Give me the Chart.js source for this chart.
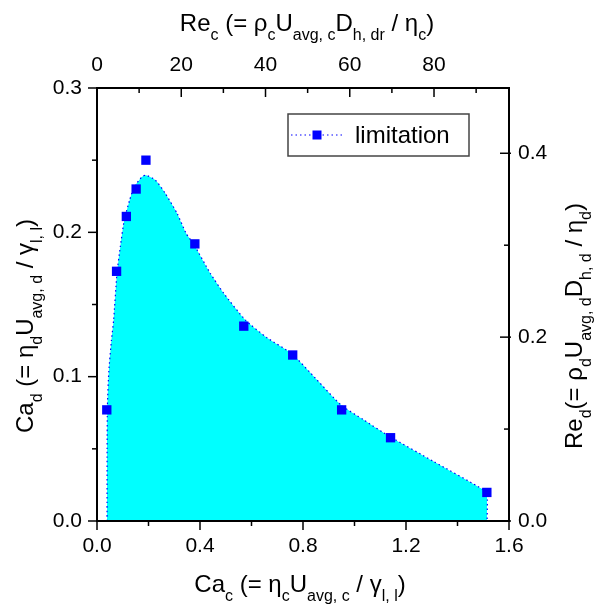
<!DOCTYPE html>
<html lang="en">
<head>
    <meta charset="UTF-8">
    <title>Limitation map</title>
    <script src="https://cdn.jsdelivr.net/npm/chart.js"></script>
    <style>
        body {
            margin: 0;
            background: #fff;
        }
        .chart-container {
            width: 598px;
            height: 606px;
        }
    </style>
</head>
<body>

    <div class="chart-container">
        <canvas id="limitChart"></canvas>
    </div>

    <script>
        // measured points (Ca_c, Ca_d)
        const caC = [0.038, 0.076, 0.114, 0.152, 0.19, 0.38, 0.57, 0.76, 0.95, 1.14, 1.514];
        const caD = [0.077, 0.173, 0.211, 0.230, 0.250, 0.192, 0.135, 0.115, 0.077, 0.0577, 0.0198];

        // smoothed limitation boundary (filled area)
        const curveX = [0.039, 0.0392, 0.0405, 0.046, 0.056, 0.0646, 0.0776, 0.0905, 0.106, 0.1267, 0.145, 0.1748, 0.19,
                        0.2264, 0.265, 0.311, 0.347, 0.375, 0.44, 0.492, 0.576, 0.66, 0.757, 0.854, 0.947,
                        1.035, 1.136, 1.307, 1.501, 1.515, 1.515];
        const curveY = [0, 0.05, 0.08, 0.104, 0.125, 0.1393, 0.1716, 0.19, 0.2085, 0.2223, 0.2315, 0.2385, 0.2396,
                        0.2362, 0.227, 0.2131, 0.199, 0.192, 0.1716, 0.1578, 0.1393, 0.127, 0.1158, 0.0978, 0.0805,
                        0.0701, 0.0586, 0.0413, 0.0217, 0.0194, 0];

        // axes
        const xTicks = [0, 0.4, 0.8, 1.2, 1.6];
        const xMinor = [0.2, 0.6, 1.0, 1.4];
        const yTicks = [0, 0.1, 0.2, 0.3];
        const yMinor = [0.05, 0.15, 0.25];
        const topTicks = [0, 20, 40, 60, 80];
        const topMinor = [10, 30, 50, 70, 90];
        const rightTicks = [0, 0.2, 0.4];
        const rightMinor = [0.1, 0.3];

        // axis titles: [text, isSubscript]
        const bottomTitle = [["Ca", 0], ["c", 1], [" (= η", 0], ["c", 1], ["U", 0], ["avg, c", 1], [" / γ", 0], ["l, l", 1], [")", 0]];
        const leftTitle = [["Ca", 0], ["d", 1], [" (= η", 0], ["d", 1], ["U", 0], ["avg, d", 1], [" / γ", 0], ["l, l", 1], [")", 0]];
        const topTitle = [["Re", 0], ["c", 1], [" (= ρ", 0], ["c", 1], ["U", 0], ["avg, c", 1], ["D", 0], ["h, dr", 1], [" / η", 0], ["c", 1], [")", 0]];
        const rightTitle = [["Re", 0], ["d", 1], ["(= ρ", 0], ["d", 1], ["U", 0], ["avg, d", 1], ["D", 0], ["h, d", 1], [" / η", 0], ["d", 1], [")", 0]];

        const FONT = '"Liberation Sans", Arial, sans-serif';

        function richText(ctx, parts, cx, cy, angle) {
            const main = "24px " + FONT;
            const sub = "16px " + FONT;
            let w = 0;
            parts.forEach(([t, s]) => { ctx.font = s ? sub : main; w += ctx.measureText(t).width; });
            ctx.save();
            ctx.translate(cx, cy);
            ctx.rotate(angle);
            ctx.fillStyle = "#000";
            ctx.textAlign = "left";
            ctx.textBaseline = "alphabetic";
            let x = -w / 2;
            parts.forEach(([t, s]) => {
                ctx.font = s ? sub : main;
                ctx.fillText(t, x, s ? 9 : 0);
                x += ctx.measureText(t).width;
            });
            ctx.restore();
        }

        // frame, tick marks (Origin style), titles and legend
        const decorations = {
            id: "decorations",
            afterDatasetsDraw(chart) {
                const { ctx, chartArea: a, scales: s } = chart;
                ctx.save();
                ctx.strokeStyle = "#000";
                ctx.lineWidth = 2;
                ctx.strokeRect(a.left, a.top, a.right - a.left, a.bottom - a.top);
                ctx.lineWidth = 1.5;
                const line = (x1, y1, x2, y2) => {
                    ctx.beginPath(); ctx.moveTo(x1, y1); ctx.lineTo(x2, y2); ctx.stroke();
                };
                xTicks.forEach(v => { const p = s.x.getPixelForValue(v); line(p, a.bottom, p, a.bottom + 9); });
                xMinor.forEach(v => { const p = s.x.getPixelForValue(v); line(p, a.bottom, p, a.bottom + 5); });
                yTicks.forEach(v => { const p = s.y.getPixelForValue(v); line(a.left - 9, p, a.left, p); });
                yMinor.forEach(v => { const p = s.y.getPixelForValue(v); line(a.left - 5, p, a.left, p); });
                topTicks.forEach(v => { const p = s.x2.getPixelForValue(v); line(p, a.top, p, a.top + 9); });
                topMinor.forEach(v => { const p = s.x2.getPixelForValue(v); line(p, a.top, p, a.top + 5); });
                rightTicks.forEach(v => { const p = s.y2.getPixelForValue(v); line(a.right - 9, p, a.right + 2, p); });
                rightMinor.forEach(v => { const p = s.y2.getPixelForValue(v); line(a.right - 5, p, a.right, p); });
                ctx.restore();
            },
            afterDraw(chart) {
                const { ctx } = chart;
                richText(ctx, bottomTitle, 300, 592, 0);
                richText(ctx, topTitle, 307, 31, 0);
                richText(ctx, leftTitle, 33, 326, -Math.PI / 2);
                richText(ctx, rightTitle, 582, 326, -Math.PI / 2);

                // legend box
                ctx.save();
                ctx.strokeStyle = "#444";
                ctx.lineWidth = 1.5;
                ctx.strokeRect(288, 114, 181, 42);
                ctx.strokeStyle = "#0000FF";
                ctx.lineWidth = 1.2;
                ctx.setLineDash([1.5, 3]);
                ctx.beginPath(); ctx.moveTo(291, 135); ctx.lineTo(344, 135); ctx.stroke();
                ctx.setLineDash([]);
                ctx.fillStyle = "#0000FF";
                ctx.fillRect(312.5, 130.5, 9, 9);
                ctx.fillStyle = "#000";
                ctx.font = "24px " + FONT;
                ctx.textBaseline = "middle";
                ctx.fillText("limitation", 355, 136);
                ctx.restore();
            }
        };

        const fixedTicks = arr => scale => { scale.ticks = arr.map(v => ({ value: v })); };
        const tickFont = { family: FONT, size: 21 };

        const ctx = document.getElementById("limitChart").getContext("2d");
        new Chart(ctx, {
            type: "scatter",
            data: {
                datasets: [
                    {
                        label: "limitation",
                        data: caC.map((x, i) => ({ x: x, y: caD[i] })),
                        pointStyle: "rect",
                        pointRadius: 6.6,
                        pointBackgroundColor: "#0000FF",
                        pointBorderWidth: 0,
                        showLine: false,
                        order: 0
                    },
                    {
                        label: "boundary",
                        data: curveX.map((x, i) => ({ x: x, y: curveY[i] })),
                        showLine: true,
                        fill: "origin",
                        backgroundColor: "#00FFFF",
                        borderColor: "#0000FF",
                        borderWidth: 1.2,
                        borderDash: [1.5, 3],
                        pointRadius: 0,
                        tension: 0.2,
                        order: 1
                    }
                ]
            },
            options: {
                responsive: true,
                maintainAspectRatio: false,
                animation: false,
                layout: { padding: 0 },
                plugins: {
                    legend: { display: false },
                    tooltip: { enabled: false }
                },
                scales: {
                    x: {
                        type: "linear", position: "bottom", min: 0, max: 1.6,
                        afterBuildTicks: fixedTicks(xTicks),
                        afterFit: sc => { sc.height = 85; },
                        grid: { display: false, drawTicks: false },
                        border: { display: false },
                        ticks: { color: "#000", font: tickFont, padding: 13, maxRotation: 0, callback: v => v.toFixed(1) }
                    },
                    x2: {
                        type: "linear", position: "top", min: 0, max: 97.8,
                        afterBuildTicks: fixedTicks(topTicks),
                        afterFit: sc => { sc.height = 88; },
                        grid: { display: false, drawTicks: false },
                        border: { display: false },
                        ticks: { color: "#000", font: tickFont, padding: 10, maxRotation: 0, callback: v => String(v) }
                    },
                    y: {
                        type: "linear", position: "left", min: 0, max: 0.3,
                        afterBuildTicks: fixedTicks(yTicks),
                        afterFit: sc => { sc.width = 97; },
                        grid: { display: false, drawTicks: false },
                        border: { display: false },
                        ticks: { color: "#000", font: tickFont, padding: 15, callback: v => v.toFixed(1) }
                    },
                    y2: {
                        type: "linear", position: "right", min: 0, max: 0.471,
                        afterBuildTicks: fixedTicks(rightTicks),
                        afterFit: sc => { sc.width = 89; },
                        grid: { display: false, drawTicks: false },
                        border: { display: false },
                        ticks: { color: "#000", font: tickFont, padding: 9, callback: v => v.toFixed(1) }
                    }
                }
            },
            plugins: [decorations]
        });
    </script>

</body>
</html>
